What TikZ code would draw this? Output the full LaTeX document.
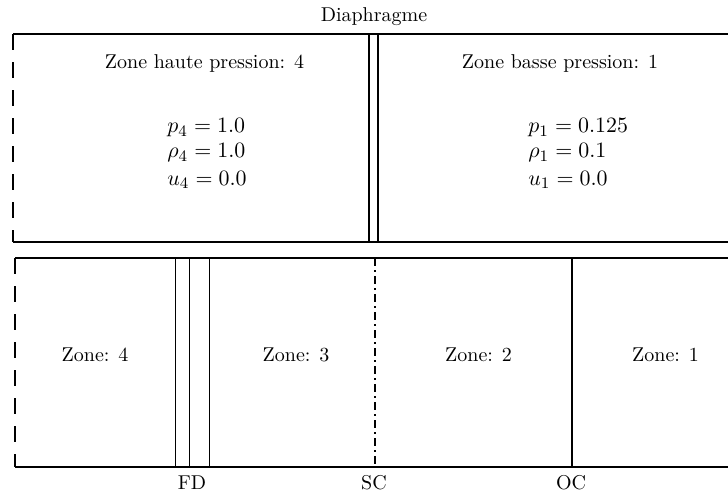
\documentclass[tikz,border=0pt]{standalone}
\usetikzlibrary{calc}
\begin{document}
\begin{tikzpicture}[x=0.5pt,y=-0.5pt,
  border/.style={line width=1pt},
  leftdash/.style={line width=1pt, dash pattern=on 7.75pt off 6.25pt},
  thinline/.style={line width=0.5pt},
  dashdot/.style={line width=1pt, dash pattern=on 4pt off 2pt on 1pt off 2pt},
  lbl/.style={inner sep=0pt, font=\normalsize},
  eq/.style={inner sep=0pt, anchor=west, font=\fontsize{11}{13}\selectfont}]
\useasboundingbox (0,0) rectangle (728,495);
% top box
\coordinate (tTL) at (13,34);
\coordinate (tBL) at (13,242);
\coordinate (tTR) at (730,34);
\coordinate (tBR) at (730,242);
\draw[border] (tTL) -- (tTR);
\draw[border] (tBL) -- (tBR);
\draw[leftdash] (tTL) -- (tBL);
% diaphragm
\coordinate (d1t) at (369,34); \coordinate (d1b) at (369,242);
\coordinate (d2t) at (378,34); \coordinate (d2b) at (378,242);
\draw[border] (d1t) -- (d1b);
\draw[border] (d2t) -- (d2b);
\node[lbl] (diaph) at (374,17) {Diaphragme};
\node[lbl] (zh) at (204.5,63) {Zone haute pression: 4};
\node[eq] (p4) at (167,128) {$p_4 = 1.0$};
\node[eq] (r4) at (167,153) {$\rho_4 = 1.0$};
\node[eq] (u4) at (167,180) {$u_4 = 0.0$};
\node[lbl] (zb) at (560,63) {Zone basse pression: 1};
\node[eq] (p1) at (528,128) {$p_1 = 0.125$};
\node[eq] (r1) at (528,153) {$\rho_1 = 0.1$};
\node[eq] (u1) at (528,180) {$u_1 = 0.0$};
% bottom box
\coordinate (bTL) at (15,258);
\coordinate (bBL) at (15,467);
\coordinate (bTR) at (730,258);
\coordinate (bBR) at (730,467);
\draw[border] (bTL) -- (bTR);
\draw[border] (bBL) -- (bBR);
\draw[leftdash] (bTL) -- (bBL);
% fan lines
\coordinate (f1t) at (175.7,258); \coordinate (f1b) at (175.7,467);
\coordinate (f2t) at (189.3,258); \coordinate (f2b) at (189.3,467);
\coordinate (f3t) at (209.3,258); \coordinate (f3b) at (209.3,467);
\draw[thinline] (f1t) -- (f1b);
\draw[thinline] (f2t) -- (f2b);
\draw[thinline] (f3t) -- (f3b);
% contact discontinuity
\coordinate (sct) at (375,258); \coordinate (scb) at (375,467);
\draw[dashdot] (sct) -- (scb);
% shock
\coordinate (oct) at (571.7,258); \coordinate (ocb) at (571.7,467);
\draw[border] (oct) -- (ocb);
\node[lbl] (z4) at (95,355) {Zone: 4};
\node[lbl] (z3) at (296,355) {Zone: 3};
\node[lbl] (z2) at (478.5,355) {Zone: 2};
\node[lbl] (z1) at (665.5,355) {Zone: 1};
\node[lbl] (fd) at (192,483) {FD};
\node[lbl] (sc) at (374,483) {SC};
\node[lbl] (oc) at (571,483) {OC};
\end{tikzpicture}
\end{document}
